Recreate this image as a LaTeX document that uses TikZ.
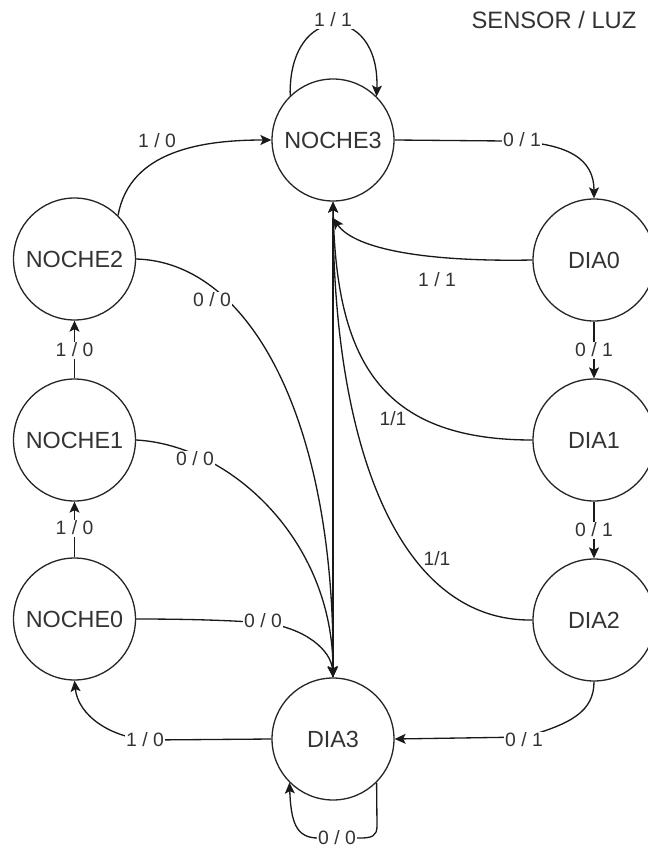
\documentclass[tikz,border=0pt]{standalone}
\usepackage{fontspec}
\setmainfont{Liberation Sans}
\usetikzlibrary{arrows.meta}
\tikzset{
  state/.style={circle, draw=black!85, line width=0.75pt, minimum size=2.44cm, inner sep=0pt,
    font=\fontsize{13.3}{16}\selectfont, text=black!80},
  elabel/.style={fill=white, inner sep=0.8pt, font=\fontsize{11}{13}\selectfont, text=black!80},
  tlabel/.style={inner sep=0.5pt, font=\fontsize{11}{13}\selectfont, text=black!80},
  edge/.style={draw=black!90, line width=0.75pt},
  arr/.style={edge, -{Stealth[length=0.22cm, width=0.2cm, inset=0.05cm]}}
}
\begin{document}
\begin{tikzpicture}[x=0.02cm, y=0.02cm]
\useasboundingbox (0,0) rectangle (648,-848);

\node[state] (N3) at (333,-140) {NOCHE3};
\node[state] (D0) at (594,-260) {DIA0};
\node[state] (D1) at (594,-440) {DIA1};
\node[state] (D2) at (594,-620) {DIA2};
\node[state] (D3) at (333,-739) {DIA3};
\node[state] (N0) at (74.5,-619) {NOCHE0};
\node[state] (N1) at (74.5,-440) {NOCHE1};
\node[state] (N2) at (74.5,-259) {NOCHE2};

\node[font=\fontsize{13.5}{16}\selectfont, text=black!80, inner sep=0pt] (title) at (554,-20) {SENSOR / LUZ};

\coordinate (n3in) at (333,-218);

% NOCHE3 self loop
\draw[arr] (N3.134) .. controls (288,-2) and (380,-2) .. (N3.45);
% NOCHE2 -> NOCHE3
\draw[arr] (N2.45) to[out=80, in=180] (N3.west);
% NOCHE3 -> DIA0
\draw[arr] (N3.east) -- (505,-141) .. controls (570,-142) and (594,-160) .. (D0.north);
% DIA0 -> NOCHE3
\draw[arr] (D0.west) .. controls (430,-262) and (355,-250) .. (n3in);
% DIA1 -> NOCHE3
\draw[arr] (D1.west) .. controls (380,-440) and (336,-360) .. (N3.south);
% DIA2 -> NOCHE3
\draw[arr] (D2.west) .. controls (400,-622) and (333,-450) .. (N3.south);
% vertical line NOCHE3 - DIA3
\draw[edge] (n3in) -- (D3.north);
% DIA0 -> DIA1, DIA1 -> DIA2
\draw[arr] (D0.south) -- (D1.north);
\draw[arr] (D1.south) -- (D2.north);
% DIA2 -> DIA3
\draw[arr] (D2.south) .. controls (594,-712) and (570,-724) .. (525,-737) -- (D3.east);
% NOCHE2 -> DIA3
\draw[arr] (N2.east) .. controls (250,-262) and (335,-420) .. (D3.north);
% NOCHE1 -> DIA3
\draw[arr] (N1.east) .. controls (230,-445) and (333,-540) .. (D3.north);
% NOCHE0 -> DIA3
\draw[arr] (N0.east) .. controls (200,-619) and (240,-621) .. (265,-623) .. controls (305,-628) and (331,-650) .. (D3.north);
% NOCHE0 -> NOCHE1 -> NOCHE2
\draw[arr] (N0.north) -- (N1.south);
\draw[arr] (N1.north) -- (N2.south);
% DIA3 -> NOCHE0
\draw[arr] (D3.west) -- (150,-740) .. controls (110,-738) and (78,-715) .. (N0.south);
% DIA3 self loop
\draw[arr] (D3.-45) -- (377,-826) .. controls (377,-836) and (372,-838) .. (360,-838) -- (318,-838) .. controls (296,-838) and (291,-822) .. (D3.-135);

% labels
\node[elabel] (l1) at (333,-20) {1 / 1};
\node[elabel] (l2) at (157,-141) {1 / 0};
\node[elabel] (l3) at (522,-140) {0 / 1};
\node[tlabel] (l4) at (437,-280) {1 / 1};
\node[tlabel] (l5) at (393,-419) {1/1};
\node[tlabel] (l6) at (437,-559) {1/1};
\node[elabel] (l7) at (594,-350) {0 / 1};
\node[elabel] (l8) at (594,-530) {0 / 1};
\node[elabel] (l9) at (524,-740) {0 / 1};
\node[elabel] (l10) at (212,-300) {0 / 0};
\node[elabel] (l11) at (195,-459) {0 / 0};
\node[elabel] (l12) at (263,-621) {0 / 0};
\node[elabel] (l13) at (74.5,-350) {1 / 0};
\node[elabel] (l14) at (74.5,-528) {1 / 0};
\node[elabel] (l15) at (145,-740) {1 / 0};
\node[elabel] (l16) at (337,-838) {0 / 0};
\end{tikzpicture}
\end{document}
